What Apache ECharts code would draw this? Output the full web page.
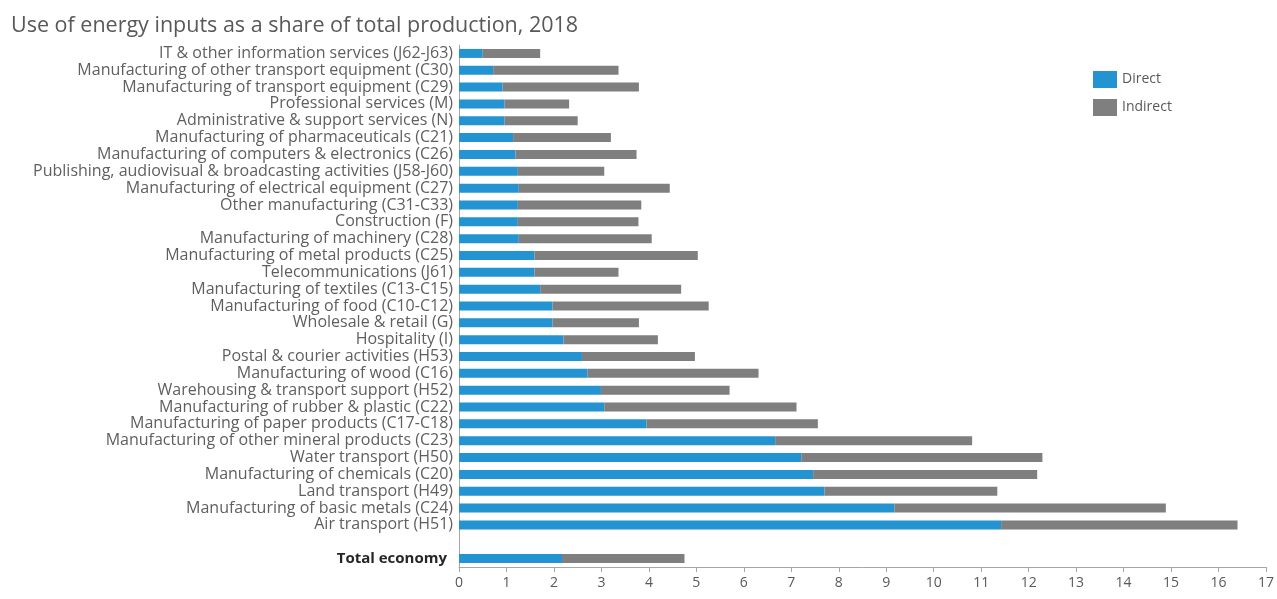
<!DOCTYPE html>
<html>
<head>
<meta charset="utf-8">
<script src="https://cdn.jsdelivr.net/npm/echarts@6/dist/echarts.min.js"></script>
<style>
  html, body { margin: 0; padding: 0; background: #fff; }
  #chart { width: 1277px; height: 599px; }
</style>
</head>
<body>
<div id="chart"></div>
<script>
// categories, top to bottom ('' is the gap row before Total economy)
const categories = [
  'IT & other information services (J62-J63)',
  'Manufacturing of other transport equipment (C30)',
  'Manufacturing of transport equipment (C29)',
  'Professional services (M)',
  'Administrative & support services (N)',
  'Manufacturing of pharmaceuticals (C21)',
  'Manufacturing of computers & electronics (C26)',
  'Publishing, audiovisual & broadcasting activities (J58-J60)',
  'Manufacturing of electrical equipment (C27)',
  'Other manufacturing (C31-C33)',
  'Construction (F)',
  'Manufacturing of machinery (C28)',
  'Manufacturing of metal products (C25)',
  'Telecommunications (J61)',
  'Manufacturing of textiles (C13-C15)',
  'Manufacturing of food (C10-C12)',
  'Wholesale & retail (G)',
  'Hospitality (I)',
  'Postal & courier activities (H53)',
  'Manufacturing of wood (C16)',
  'Warehousing & transport support (H52)',
  'Manufacturing of rubber & plastic (C22)',
  'Manufacturing of paper products (C17-C18)',
  'Manufacturing of other mineral products (C23)',
  'Water transport (H50)',
  'Manufacturing of chemicals (C20)',
  'Land transport (H49)',
  'Manufacturing of basic metals (C24)',
  'Air transport (H51)',
  '',
  'Total economy'
]

const direct = [
  0.50, 0.72, 0.92, 0.96, 0.96, 1.14, 1.19, 1.24, 1.26, 1.24,
  1.24, 1.26, 1.59, 1.59, 1.71, 1.97, 1.97, 2.20, 2.59, 2.71,
  2.99, 3.06, 3.95, 6.66, 7.21, 7.46, 7.70, 9.17, 11.42, null,
  2.17
]

const indirect = [
  1.21, 2.64, 2.87, 1.36, 1.54, 2.06, 2.55, 1.82, 3.18, 2.60,
  2.54, 2.80, 3.44, 1.77, 2.97, 3.29, 1.82, 1.99, 2.38, 3.60,
  2.71, 4.05, 3.61, 4.15, 5.08, 4.72, 3.64, 5.72, 4.98, null,
  2.58
]

const xTicks = [0, 17, 1] // min, max, interval

const chart = echarts.init(document.getElementById('chart'))
chart.setOption({
  animation: false,
  textStyle: { fontFamily: 'Open Sans' },
  title: {
    text: 'Use of energy inputs as a share of total production, 2018',
    left: 6,
    top: 10,
    textStyle: { fontSize: 21.5, fontWeight: 'normal', color: '#595959', fontFamily: 'Open Sans' }
  },
  legend: {
    orient: 'vertical',
    left: 1088,
    top: 66,
    itemWidth: 24,
    itemHeight: 17,
    itemGap: 11,
    icon: 'rect',
    textStyle: { fontSize: 14, color: '#595959' },
    data: ['Direct', 'Indirect']
  },
  grid: {
    left: 459,
    right: 9,
    top: 45,
    bottom: 32,
    containLabel: false
  },
  xAxis: {
    type: 'value',
    min: xTicks[0],
    max: xTicks[1],
    interval: xTicks[2],
    axisLine: { show: true, lineStyle: { color: '#a6a6a6' } },
    axisTick: { show: true, length: 5, lineStyle: { color: '#a6a6a6' } },
    axisLabel: { fontSize: 14, color: '#595959', margin: 9 },
    splitLine: { show: false }
  },
  yAxis: {
    type: 'category',
    inverse: true,
    data: categories,
    axisLine: { show: true, lineStyle: { color: '#a6a6a6' } },
    axisTick: { show: false },
    axisLabel: {
      fontSize: 16,
      color: '#5f5f5f',
      margin: 6,
      interval: 0,
      formatter: v => v === 'Total economy' ? '{b|' + v + '}' : v,
      rich: { b: { fontWeight: 'bold', color: '#262626', fontSize: 15, padding: [0, 6, 0, 0] } }
    }
  },
  series: [
    {
      name: 'Direct',
      type: 'bar',
      stack: 'energy',
      barWidth: 9,
      data: direct,
      itemStyle: { color: '#2394d1' }
    },
    {
      name: 'Indirect',
      type: 'bar',
      stack: 'energy',
      barWidth: 9,
      data: indirect,
      itemStyle: { color: '#7f7f7f' }
    }
  ]
})
</script>
</body>
</html>
